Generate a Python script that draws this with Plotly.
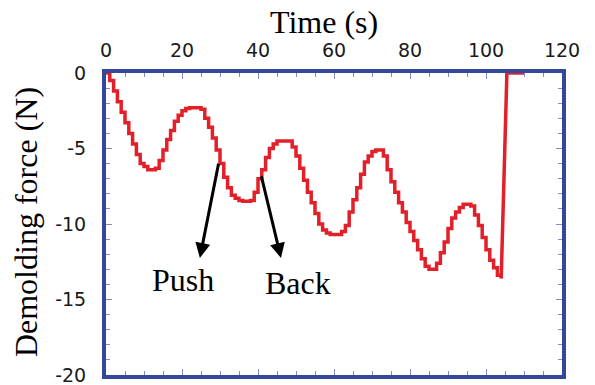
import plotly.graph_objects as go

time_s = list(range(0, 105))
force_n = [
    0.0, -0.5, -1.2, -1.9, -2.6, -3.3, -4.0, -4.7, -5.4, -6.0,
    -6.2, -6.4, -6.4, -6.3, -5.8, -5.1, -4.4, -3.8, -3.2, -2.8,
    -2.5, -2.35, -2.3, -2.3, -2.3, -2.4, -3.0, -3.6, -4.3, -5.1,
    -6.0, -6.9, -7.6, -8.1, -8.3, -8.45, -8.5, -8.5, -8.45, -7.9,
    -7.0, -6.4, -5.6, -5.0, -4.7, -4.5, -4.5, -4.5, -4.5, -4.9,
    -5.5, -6.3, -7.1, -7.9, -8.6, -9.3, -10.0, -10.4, -10.6, -10.7,
    -10.7, -10.7, -10.5, -10.1, -9.2, -8.4, -7.6, -6.7, -5.9, -5.5,
    -5.2, -5.1, -5.1, -5.5, -6.4, -7.2, -7.9, -8.6, -9.2, -9.9,
    -10.5, -11.1, -11.7, -12.3, -12.8, -13.0, -13.0, -12.6, -11.9, -11.2,
    -10.3, -9.6, -9.2, -8.9, -8.7, -8.7, -8.8, -9.4, -10.1, -10.9,
    -11.7, -12.4, -12.9, -13.4, -13.6,
]
# release: force jumps back to zero
release_t = [104, 105.5, 110]
release_f = [-13.6, 0.0, 0.0]

x_ticks = [0, 20, 40, 60, 80, 100, 120]
x_ticktext = ["0", "20", "40", "60", "80", "100", "120"]
y_ticks = [0, -5, -10, -15, -20]
y_ticktext = ["0", "-5", "-10", "-15", "-20"]

RED = "#e2202a"
BLUE = "#33479b"
TICKBLUE = "#7f8cc4"

fig = go.Figure()
fig.add_trace(go.Scatter(x=time_s, y=force_n, mode="lines",
                         line=dict(color=RED, width=3.5, shape="hv"),
                         showlegend=False))
fig.add_trace(go.Scatter(x=release_t, y=release_f, mode="lines",
                         line=dict(color=RED, width=3.5),
                         showlegend=False))

tickfont = dict(family="DejaVu Sans", size=19, color="#1a1a1a")

fig.update_layout(
    width=595, height=385,
    margin=dict(l=106, r=33, t=73, b=10, autoexpand=False),
    paper_bgcolor="white", plot_bgcolor="white",
    showlegend=False,
    xaxis=dict(range=[0, 120], side="top", showgrid=False, zeroline=False,
               automargin=False,
               showline=True, linecolor=BLUE, linewidth=4, mirror="ticks",
               ticks="inside", ticklen=6, tickwidth=1, tickcolor=TICKBLUE,
               tickvals=x_ticks, ticktext=x_ticktext, tickfont=tickfont,
               ticklabelstandoff=4, ticklabeloverflow="allow",
               minor=dict(dtick=5, ticks="inside", ticklen=4, tickcolor=TICKBLUE),
               layer="below traces"),
    yaxis=dict(range=[-20, 0], showgrid=False, zeroline=False,
               automargin=False,
               showline=True, linecolor=BLUE, linewidth=4, mirror="ticks",
               ticks="inside", ticklen=6, tickwidth=1, tickcolor=TICKBLUE,
               tickvals=y_ticks, ticktext=y_ticktext, tickfont=tickfont,
               ticklabelstandoff=12, ticklabeloverflow="allow",
               minor=dict(dtick=1, ticks="inside", ticklen=4, tickcolor=TICKBLUE),
               layer="below traces"),
)

serif = dict(family="Liberation Serif", size=32, color="black")
fig.add_annotation(text="Time (s)", xref="paper", yref="paper", x=0.478, y=1.17,
                   xanchor="center", yanchor="middle", showarrow=False, font=serif)
fig.add_annotation(text="Demolding force (N)", xref="paper", yref="paper",
                   x=-0.175, y=0.507, xanchor="center", yanchor="middle",
                   textangle=-90, showarrow=False, font=serif)

fig.add_annotation(text="Push", x=20.3, y=-13.7, xref="x", yref="y",
                   showarrow=False, font=serif)
fig.add_annotation(text="Back", x=50.5, y=-13.9, xref="x", yref="y",
                   showarrow=False, font=serif)

# arrows (head at x,y; tail at ax,ay)
fig.add_annotation(x=24.7, y=-12.25, ax=29.7, ay=-5.9, xref="x", yref="y",
                   axref="x", ayref="y", text="", showarrow=True,
                   arrowhead=2, arrowsize=1, arrowwidth=3, arrowcolor="black")
fig.add_annotation(x=46.05, y=-12.25, ax=40.8, ay=-6.75, xref="x", yref="y",
                   axref="x", ayref="y", text="", showarrow=True,
                   arrowhead=2, arrowsize=1, arrowwidth=3, arrowcolor="black")

fig.write_html("out.html",
               config={"displayModeBar": False},
               post_script="document.body.style.margin='0px';")
